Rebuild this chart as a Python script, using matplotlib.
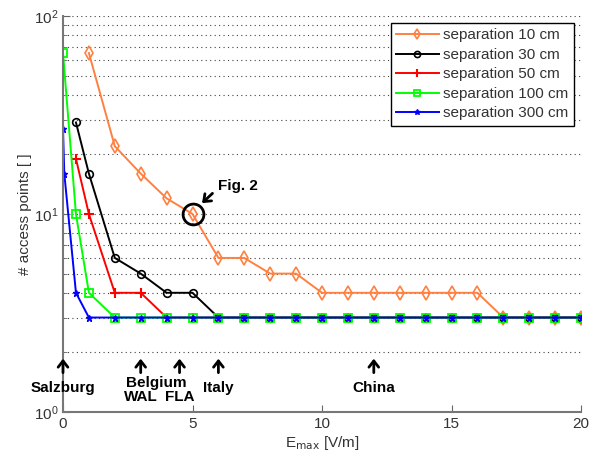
import matplotlib
matplotlib.use("Agg")
import matplotlib.pyplot as plt
from matplotlib.ticker import LogLocator, NullFormatter

plt.rcParams['font.family'] = ['Liberation Sans', 'DejaVu Sans']

# data
x10 = [1, 2, 3, 4, 5, 6, 7, 8, 9, 10, 11, 12, 13, 14, 15, 16, 17, 18, 19, 20]
y10 = [65, 22, 16, 12, 10, 6, 6, 5, 5, 4, 4, 4, 4, 4, 4, 4, 3, 3, 3, 3]
x30 = [0.5, 1] + list(range(2, 21))
y30 = [29, 16, 6, 5, 4, 4] + [3] * 15
x50 = [0.5, 1] + list(range(2, 21))
y50 = [19, 10, 4, 4] + [3] * 17
x100 = [0, 0.5, 1] + list(range(2, 21))
y100 = [65, 10, 4] + [3] * 19
x300 = [0, 0.05, 0.5, 1] + list(range(2, 21))
y300 = [27, 16, 4] + [3] * 20

countries = ['Salzburg', 'Belgium', 'Italy', 'China']
country_x = [0, 3.6, 6, 12]
arrow_x = [0, 3, 4.5, 6, 12]
sub_labels = ['WAL', 'FLA']
sub_x = [3, 4.5]

fig = plt.figure(figsize=(6.06, 4.59), dpi=100)
ax = fig.add_axes([63 / 606, 1 - 412 / 459, 518 / 606, 396 / 459])

ax.plot(x10, y10, color='#FF8040', marker='d', ms=7, mfc='none', mew=1.2, lw=1.4, label='separation 10 cm')
ax.plot(x30, y30, color='black', marker='o', ms=5.5, mfc='none', mew=1.2, lw=1.4, label='separation 30 cm')
ax.plot(x50, y50, color='red', marker='+', ms=7, mew=1.5, lw=1.4, label='separation 50 cm')
ax.plot(x100, y100, color='#00FF00', marker='s', ms=6, mfc='none', mew=1.3, lw=1.4, label='separation 100 cm')
ax.plot(x300, y300, color='blue', marker='*', ms=5, lw=1.4, label='separation 300 cm')

ax.set_yscale('log')
ax.set_xlim(0, 20)
ax.set_ylim(1, 100)
ax.set_xticks([0, 5, 10, 15, 20])
ax.yaxis.set_minor_locator(LogLocator(base=10, subs=range(2, 10)))
ax.yaxis.set_minor_formatter(NullFormatter())
ax.yaxis.grid(True, which='both', linestyle=(0, (1, 3)), color='#444444', lw=0.8)
ax.tick_params(which='both', direction='in', colors='#666666', labelcolor='#333333', labelsize=11)
ax.tick_params(axis='y', which='major', length=5)
ax.tick_params(axis='y', which='minor', length=3)
ax.tick_params(axis='x', length=5)
for s in ['top', 'right']:
    ax.spines[s].set_visible(False)
for s in ['left', 'bottom']:
    ax.spines[s].set_color('#777777')
    ax.spines[s].set_linewidth(1.5)

ax.set_xlabel('E$_{\\mathrm{max}}$ [V/m]', fontsize=11, color='#333333', labelpad=2)
ax.set_ylabel('# access points [ ]', fontsize=11, color='#333333', labelpad=1)

leg = ax.legend(loc='upper right', bbox_to_anchor=(574 / 606, 1 - 23 / 459),
                bbox_transform=fig.transFigure, fancybox=False, edgecolor='black',
                framealpha=1, fontsize=11, handlelength=2.8, borderaxespad=0,
                labelspacing=0.36, borderpad=0.35, handletextpad=0.3, markerscale=0.8)
leg.get_frame().set_linewidth(1.0)
for t in leg.get_texts():
    t.set_color('#333333')

# country arrows
for xa in arrow_x:
    ax.annotate('', xy=(xa, 1.92), xytext=(xa, 1.53),
                arrowprops=dict(arrowstyle='->, head_width=0.35, head_length=0.45', lw=2, color='black'))
for name, xc in zip(countries, country_x):
    yc = 1.40 if name == 'Belgium' else 1.32
    ax.text(xc, yc, name, ha='center', va='center', fontsize=11, fontweight='bold')
for name, xc in zip(sub_labels, sub_x):
    ax.text(xc, 1.19, name, ha='center', va='center', fontsize=11, fontweight='bold')

# Fig. 2 highlight
fx = 5
fy = y10[x10.index(fx)]
ax.plot([fx], [fy], marker='o', ms=15, mfc='none', mec='black', mew=2)
ax.annotate('', xy=(5.29, 11.1), xytext=(5.85, 13.0),
            arrowprops=dict(arrowstyle='->, head_width=0.35, head_length=0.45', lw=2, color='black'))
ax.text(5.98, 13.8, 'Fig. 2', ha='left', va='center', fontsize=11, fontweight='bold')

fig.savefig('out.png', dpi=100)
